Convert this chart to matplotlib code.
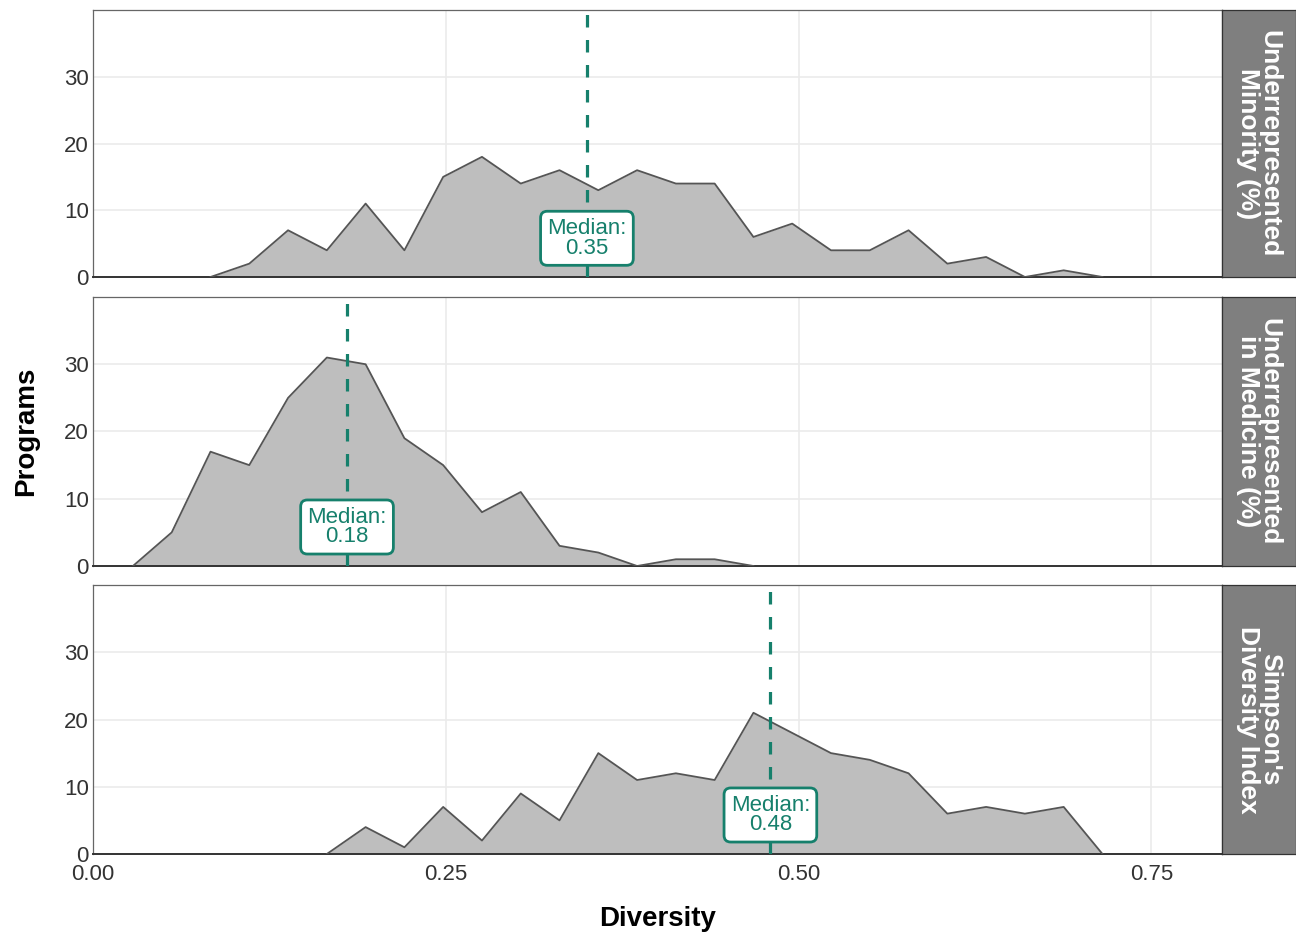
import matplotlib
matplotlib.use("Agg")
import matplotlib.pyplot as plt
import numpy as np

plt.rcParams['font.family'] = ['Liberation Sans', 'DejaVu Sans']
plt.rcParams['lines.scale_dashes'] = False

# frequency polygon grid (same bins for all panels)
x0 = 0.0283
binw = 0.02748

panels = ["Underrepresented\nMinority (%)",
          "Underrepresented\nin Medicine (%)",
          "Simpson's\nDiversity Index"]

# first bin index and counts per panel
urm_start = 2
urm_counts = [0, 2, 7, 4, 11, 4, 15, 18, 14, 16, 13, 16, 14, 14, 6, 8, 4, 4, 7, 2, 3, 0, 1, 0]
urim_start = 0
urim_counts = [0, 5, 17, 15, 25, 31, 30, 19, 15, 8, 11, 3, 2, 0, 1, 1, 0]
sdi_start = 5
sdi_counts = [0, 4, 1, 7, 2, 9, 5, 15, 11, 12, 11, 21, 18, 15, 14, 12, 6, 7, 6, 7, 0]

medians = [0.35, 0.18, 0.48]

starts = [urm_start, urim_start, sdi_start]
counts = [urm_counts, urim_counts, sdi_counts]

teal = "#16806c"
W, H = 1296, 933
fig = plt.figure(figsize=(W / 100, H / 100), dpi=100)

# panel pixel boxes (top, bottom)
boxes = [(10, 277), (297, 566), (585, 854)]
left, right, strip_r = 93, 1222, 1296

for i, (top, bot) in enumerate(boxes):
    ax = fig.add_axes([left / W, 1 - bot / H, (right - left) / W, (bot - top) / H])
    c = np.array(counts[i])
    x = x0 + (starts[i] + np.arange(len(c))) * binw
    ax.fill_between(x, 0, c, color="#bebebe", lw=0, zorder=2)
    ax.plot(x, c, color="#555555", lw=1.3, zorder=3)
    ax.axvline(medians[i], color=teal, lw=2.3, dashes=(9, 9), zorder=4)
    ax.text(medians[i], 5.8, "Median:\n%.2f" % medians[i], ha="center", va="center",
            color=teal, fontsize=16, linespacing=0.92, zorder=5,
            bbox=dict(boxstyle="round,pad=0.3,rounding_size=0.3", fc="white",
                      ec=teal, lw=2))
    ax.set_xlim(0, 0.8)
    ax.set_ylim(0, 40)
    ax.set_yticks([0, 10, 20, 30])
    ax.set_xticks([0, 0.25, 0.5, 0.75])
    ax.grid(True, color="#ebebeb", lw=1.2, zorder=0)
    ax.set_axisbelow(True)
    for s in ax.spines.values():
        s.set_color("#666666")
        s.set_linewidth(0.9)
    ax.spines["bottom"].set_color("#333333")
    ax.spines["bottom"].set_linewidth(1.4)
    ax.tick_params(length=0, labelsize=16, colors="#333333", pad=3)
    ax.tick_params(axis="x", pad=7)
    if i < 2:
        ax.set_xticklabels([])
    else:
        ax.set_xticklabels(["0.00", "0.25", "0.50", "0.75"])
        ax.set_xlabel("Diversity", fontsize=20, fontweight="bold", labelpad=15)

    # facet strip on the right
    sax = fig.add_axes([right / W, 1 - bot / H, (strip_r - right) / W, (bot - top) / H])
    sax.set_facecolor("#7f7f7f")
    sax.set_xticks([])
    sax.set_yticks([])
    for s in sax.spines.values():
        s.set_color("#333333")
        s.set_linewidth(0.9)
    sax.text(0.5, 0.5, panels[i], rotation=-90, ha="center", va="center",
             color="white", fontsize=19, fontweight="bold", linespacing=0.88,
             transform=sax.transAxes)

fig.text(26 / W, 1 - 431 / H, "Programs", rotation=90, ha="center", va="center",
         fontsize=20, fontweight="bold")

fig.savefig("out.png", dpi=100)
